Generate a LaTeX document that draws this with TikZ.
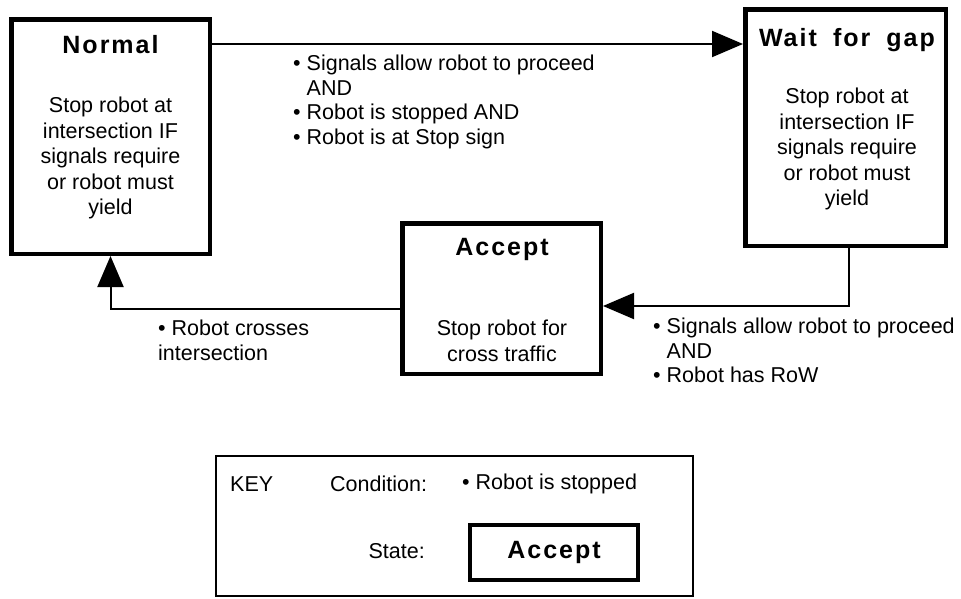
\documentclass[tikz,border=0pt]{standalone}
\usepackage{fontspec}
\setmainfont{Liberation Sans}
\newfontfamily\titlefont[LetterSpace=8,WordSpace=1.8]{Liberation Sans}
\usepackage{tikz}
\usetikzlibrary{arrows.meta}
\usetikzlibrary{calc}
\tikzset{
  state/.style={draw, line width=4.5pt, inner sep=0},
  statename/.style={font=\titlefont\bfseries\fontsize{25}{30}\selectfont, inner sep=0},
  statetext/.style={font=\fontsize{21.5}{25.5}\selectfont, align=center, inner sep=0},
  cond/.style={font=\fontsize{21.5}{24.5}\selectfont, align=left, inner sep=0, anchor=north west},
  keytext/.style={font=\fontsize{21.5}{25}\selectfont, inner sep=0},
  flow/.style={line width=2pt, -{Triangle[length=31pt,width=26pt]}},
}

\begin{document}
\begin{tikzpicture}[x=1pt,y=-1pt]
\useasboundingbox (0,0) rectangle (961,598);

\node[state, minimum width=198.5pt, minimum height=234.5pt] (normal) at (110.5,136.5) {};
\node[state, minimum width=200.5pt, minimum height=236.5pt] (wait) at (845.5,127.5) {};
\node[state, minimum width=198.5pt, minimum height=150.5pt] (accept) at (501.5,298.5) {};

\node[statename] (normalname) at (110.5,45) {Normal};
\node[statename] (waitname) at (847,40) {Wait for gap};
\node[statename] (acceptname) at (502,249) {Accept};

\node[statetext] (normaltext) at (110.5,158) {Stop robot at\\intersection IF\\signals require\\or robot must\\yield};
\node[statetext] (waittext) at (847,149) {Stop robot at\\intersection IF\\signals require\\or robot must\\yield};
\node[statetext] (accepttext) at (502,341) {Stop robot for\\cross traffic};

\draw[flow] (normal.east |- 0,44) -- (wait.west |- 0,44);
\draw[flow] ([xshift=3.5pt]wait.south) |- (accept.east |- 0,306);
\draw[flow] (accept.west |- 0,309) -| (normal.south);

\node[cond] (gocond) at (293,55) {\textbullet\ Signals allow robot to proceed\\\hphantom{\textbullet\ }AND\\\textbullet\ Robot is stopped AND\\\textbullet\ Robot is at Stop sign};
\node[cond] (acceptcond) at (653,318) {\textbullet\ Signals allow robot to proceed\\\hphantom{\textbullet\ }AND\\\textbullet\ Robot has RoW};
\node[cond] (crosscond) at (158,320) {\textbullet\ Robot crosses\\intersection};

\node[draw, line width=2pt, minimum width=477pt, minimum height=140pt] (key) at (454.5,526) {};
\node[keytext, anchor=west] (keyname) at (230,484) {KEY};
\node[keytext, anchor=west] (keycond) at (330,484) {Condition:};
\node[keytext, anchor=west] (keycondex) at (462,484) {\textbullet\ Robot is stopped};
\node[keytext, anchor=east] (keystate) at (425,551) {State:};
\node[state, line width=4pt, minimum width=168pt, minimum height=55pt] (keystatebox) at (554,552.5) {};
\node[statename] (keystatename) at (keystatebox) {Accept};
\end{tikzpicture}
\end{document}
